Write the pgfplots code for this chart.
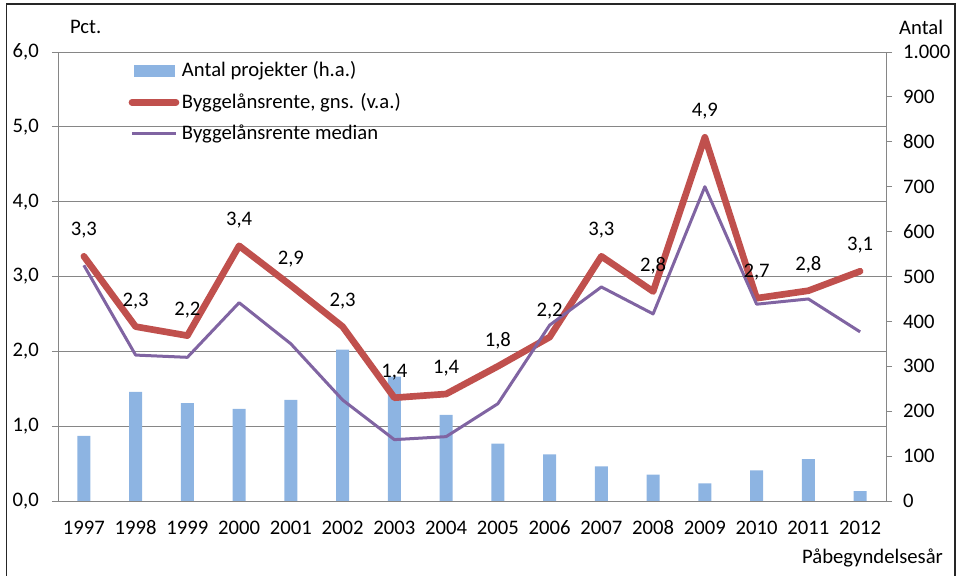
\documentclass[border=0pt]{standalone}
\usepackage{fontspec}
\setmainfont{Carlito}
\usepackage{pgfplots}
\usepackage{pgfplotstable}
\pgfplotsset{compat=1.18}

\definecolor{barblue}{RGB}{141,180,226}
\definecolor{gnsred}{RGB}{192,80,77}
\definecolor{medpurple}{RGB}{128,100,162}
\definecolor{gridgray}{RGB}{134,134,134}

% year index, antal projekter, gns rente, median rente
\pgfplotstableread{
x  antal gns  median
0  145   3.27 3.15
1  243   2.33 1.95
2  218   2.21 1.92
3  205   3.41 2.65
4  225   2.88 2.10
5  337   2.33 1.35
6  277   1.38 0.82
7  192   1.43 0.86
8  128   1.80 1.30
9  104   2.19 2.35
10 77    3.27 2.86
11 59    2.80 2.50
12 39    4.86 4.20
13 68    2.71 2.63
14 93    2.81 2.70
15 22    3.07 2.26
}\data

\pgfplotsset{
  base/.style={
    scale only axis, width=621pt, height=336.75pt,
    at={(0pt,0pt)}, anchor=south west,
    xmin=-0.5, xmax=15.5,
    tick align=outside, major tick length=4.5pt, minor tick length=4.5pt,
    every tick/.style={gridgray, line width=0.6pt},
    axis line style={gridgray, line width=0.6pt},
    /pgf/number format/assume math mode=true,
  },
}

\begin{document}
\fontsize{15.5}{18}\selectfont
\begin{tikzpicture}
\useasboundingbox (-43.5pt,-55.5pt) rectangle (674.25pt,375.75pt);
\draw[line width=1.4pt, black!85] (-38.6pt,-70pt) rectangle (672.75pt,372.75pt);

% bars on the right axis (antal)
\begin{axis}[base,
  ymin=0, ymax=1000, ytick={0,100,...,1000},
  axis y line*=right, axis x line=none,
  scaled y ticks=false,
  yticklabel style={/pgf/number format/1000 sep={.}, xshift=3pt},
  extra y ticks={166.667,333.333,500,666.667,833.333,1000},
  extra y tick labels={},
  extra y tick style={grid=major, major grid style={gridgray, line width=0.6pt}, major tick length=0pt},
  ybar, bar width=9.75pt,
]
\addplot[fill=barblue, draw=none] table[x=x, y=antal]{\data};
\end{axis}

% lines on the left axis (pct.)
\begin{axis}[base,
  ymin=0, ymax=6, ytick={0,1,...,6},
  axis y line*=left, axis x line*=bottom,
  yticklabel style={/pgf/number format/.cd, fixed, fixed zerofill, precision=1, use comma, /tikz/.cd, xshift=-4.5pt},
  xtick={0,...,15},
  xticklabels={1997,1998,1999,2000,2001,2002,2003,2004,2005,2006,2007,2008,2009,2010,2011,2012},
  xticklabel style={text height=11pt, text depth=3pt, yshift=-4pt},
  xtick style={draw=none},
  minor xtick={-0.5,0.5,...,15.5},
  legend style={at={(0.085,0.985)}, anchor=north west, draw=none, fill=none,
    inner sep=0pt, row sep=6pt, cells={anchor=west}},
  legend image code/.code={\draw[#1] (0pt,0pt) -- (33pt,0pt);},
]
\addlegendimage{legend image code/.code={\fill[barblue] (1.5pt,-4pt) rectangle (31.5pt,4pt);}}
\addlegendentry{Antal projekter (h.a.)}
\addplot[gnsred, line width=5pt, line join=round, line cap=round,
  nodes near coords={\pgfmathprintnumber[fixed,precision=1,fixed zerofill,use comma]{\pgfplotspointmeta}},
  every node near coord/.append style={black, anchor=center, yshift=19.5pt}]
  table[x=x, y=gns]{\data};
\addlegendentry{Byggelånsrente, gns. (v.a.)}
\addplot[medpurple, line width=2.25pt, line join=round]
  table[x=x, y=median]{\data};
\addlegendentry{Byggelånsrente median}
\end{axis}

\node[anchor=west] at (3.75pt,355.5pt) {Pct.};
\node[anchor=west] at (625.5pt,355.5pt) {Antal};
\node[anchor=east] at (669pt,-42.75pt) {Påbegyndelsesår};
\end{tikzpicture}
\end{document}
